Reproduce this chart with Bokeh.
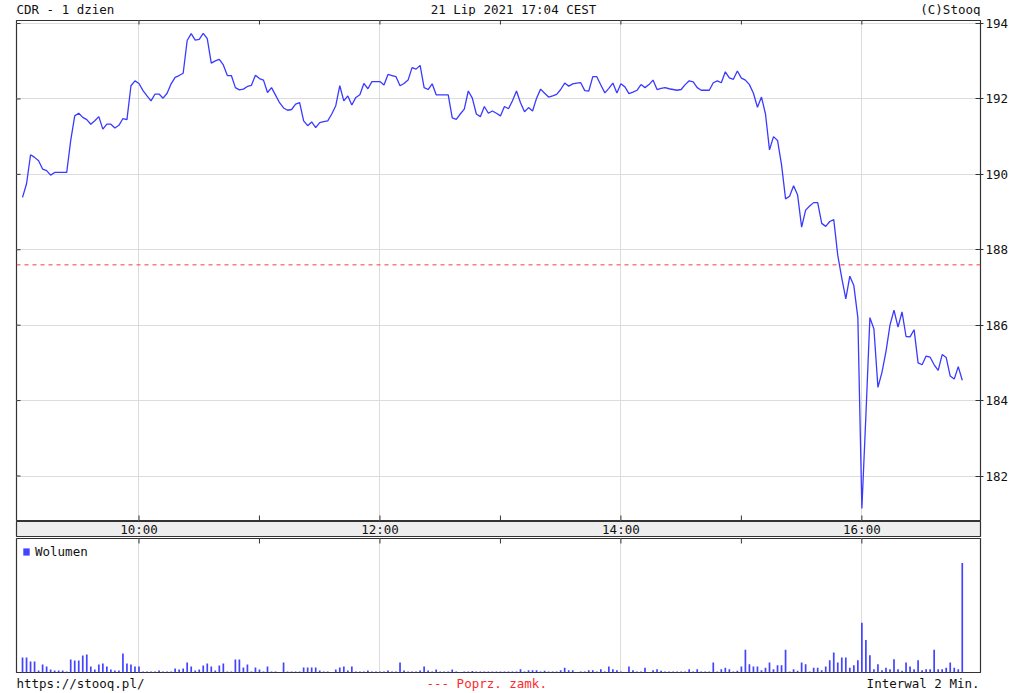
from bokeh.plotting import figure
from bokeh.models import Range1d, FixedTicker, Grid, Span, Legend, LegendItem
from bokeh.layouts import column
from bokeh.embed import file_html
from bokeh.resources import INLINE
from bokeh.core.properties import value

# ---------------- data ----------------
title_left = "CDR - 1 dzien"
title_center = "21 Lip 2021 17:04 CEST"
title_right = "(C)Stooq"
footer_left = "https://stooq.pl/"
footer_center = "--- Poprz. zamk."
footer_right = "Interwal 2 Min."
volume_label = "Wolumen"

start_minute = 9 * 60 + 2   # first 2-minute bar: 09:02
interval = 2

price = [
    189.39, 189.75, 190.52, 190.45, 190.36, 190.14, 190.10, 189.98, 190.05, 190.05,
    190.05, 190.05, 190.90, 191.55, 191.62, 191.51, 191.45, 191.33, 191.42, 191.53,
    191.20, 191.33, 191.33, 191.23, 191.30, 191.48, 191.45, 192.35, 192.48, 192.41,
    192.22, 192.08, 191.95, 192.13, 192.13, 192.02, 192.15, 192.40, 192.57, 192.62,
    192.68, 193.55, 193.73, 193.56, 193.58, 193.74, 193.60, 192.95, 193.01, 193.05,
    192.90, 192.62, 192.62, 192.30, 192.24, 192.26, 192.33, 192.36, 192.63, 192.54,
    192.50, 192.17, 192.30, 192.10, 191.90, 191.76, 191.70, 191.72, 191.86, 191.90,
    191.42, 191.29, 191.39, 191.24, 191.37, 191.40, 191.42, 191.60, 191.82, 192.35,
    191.95, 192.08, 191.84, 192.04, 192.11, 192.41, 192.27, 192.46, 192.46, 192.46,
    192.37, 192.65, 192.62, 192.59, 192.35, 192.41, 192.50, 192.83, 192.79, 192.89,
    192.30, 192.25, 192.40, 192.11, 192.11, 192.11, 192.11, 191.50, 191.46, 191.60,
    191.73, 192.21, 192.02, 191.60, 191.53, 191.80, 191.62, 191.68, 191.62, 191.55,
    191.80, 191.74, 191.95, 192.21, 191.90, 191.66, 191.77, 191.68, 192.02, 192.26,
    192.15, 192.05, 192.08, 192.12, 192.25, 192.42, 192.34, 192.40, 192.42, 192.43,
    192.22, 192.21, 192.59, 192.59, 192.37, 192.16, 192.28, 192.42, 192.16, 192.40,
    192.32, 192.14, 192.18, 192.23, 192.38, 192.30, 192.38, 192.50, 192.25, 192.28,
    192.30, 192.27, 192.25, 192.23, 192.25, 192.38, 192.48, 192.45, 192.30, 192.23,
    192.23, 192.23, 192.43, 192.48, 192.43, 192.72, 192.56, 192.52, 192.74, 192.55,
    192.50, 192.38, 192.15, 191.78, 192.05, 191.60, 190.65, 191.00, 190.90, 190.25,
    189.35, 189.42, 189.70, 189.45, 188.60, 189.05, 189.16, 189.25, 189.25, 188.70,
    188.62, 188.75, 188.80, 187.85, 187.25, 186.70, 187.30, 187.05, 186.20, 181.14,
    183.60, 186.20, 185.90, 184.35, 184.75, 185.30, 186.00, 186.40, 185.95, 186.35,
    185.70, 185.69, 185.88, 185.00, 184.95, 185.18, 185.15, 184.95, 184.80, 185.22,
    185.14, 184.65, 184.57, 184.90, 184.54,
]

volume = [
    15, 15, 11, 11, 2, 8, 6, 3, 2, 2,
    2, 1, 13, 12, 12, 17, 18, 6, 3, 8,
    9, 6, 3, 2, 2, 19, 9, 8, 6, 6,
    1, 1, 1, 1, 2, 1, 1, 1, 4, 3,
    4, 10, 6, 2, 3, 7, 9, 6, 2, 7,
    9, 1, 1, 13, 13, 5, 8, 1, 5, 3,
    1, 6, 1, 1, 0.5, 10, 1, 1, 1, 1,
    5, 5, 5, 5, 2, 1, 1, 0.5, 3, 5,
    6, 2, 6, 1, 1, 1, 2, 1, 1, 1,
    1, 2, 1, 1, 10, 2, 1, 1, 1, 2,
    6, 2, 1, 3, 1, 1, 1, 3, 1, 0.5,
    1, 1, 1.5, 1, 1, 1, 1, 1, 1, 1,
    1, 1, 1, 1, 3.3, 1, 2.3, 2.3, 2.3, 1,
    1.7, 1, 1, 1, 2.3, 4.7, 2.3, 2.3, 0.5, 1,
    1, 2.3, 2.3, 1, 3.3, 1, 6, 3.3, 2.3, 1,
    0.5, 6, 2.3, 1, 1, 4.7, 0.5, 2.3, 3.3, 1.7,
    1, 1, 1, 1, 1, 1, 3.3, 1, 3.3, 1,
    1, 1, 10, 1, 3.3, 4.7, 3.3, 1, 1.7, 6,
    23, 8.3, 6, 6, 2.3, 4.7, 10, 3.3, 7.3, 7.3,
    23, 1, 3.3, 1.7, 10, 8.3, 1, 4.7, 4.7, 2.3,
    6, 12.3, 20, 10, 15, 15, 4.7, 7.3, 12.3, 50,
    32.7, 17.3, 3.3, 8.3, 2.3, 4.7, 3.3, 13.3, 3.3, 1.7,
    10, 6, 3.3, 12.3, 2.3, 3.3, 3.3, 23, 3.3, 3.3,
    4.7, 10, 4.7, 3.3, 110,
]

prev_close = 187.6
hour_ticks = [600, 660, 720, 780, 840, 900, 960]
label_ticks = [600, 720, 840, 960]
time_labels = ["10:00", "12:00", "14:00", "16:00"]
price_ticks = [182, 184, 186, 188, 190, 192, 194]

times = [start_minute + interval * i for i in range(len(price))]

# ---------------- styling / layout ----------------
W = 1024
LB, RB = 16, 44                 # frame spans x = 16 .. 980
FRAME_W = W - LB - RB
FONT = "DejaVu Sans Mono"
FS = "12.5px"
BORDER = "#333333"
GRID = "#dcdcdc"
BLUE = "#3a3aff"
TXT = "#111111"

X0, X1 = 539.0, 1019.08
xr = Range1d(X0, X1)
min_per_px = (X1 - X0) / FRAME_W

P_TOP = 4
P_FRAME_H = 500
P_H = P_FRAME_H + P_TOP + 1
Y0, Y1 = 180.82, 194.08
val_per_px = (Y1 - Y0) / P_FRAME_H

V_H = 136
V_FRAME_H = V_H - 2
V_TOP = max(volume) * 1.225
vol_per_px = V_TOP / V_FRAME_H


def text_strip(height, ypos, items):
    f = figure(width=W, height=height, x_range=Range1d(LB, W - RB), y_range=Range1d(0, 1),
               x_axis_type=None, y_axis_type=None,
               min_border_left=LB, min_border_right=RB, min_border_top=0, min_border_bottom=0,
               output_backend="svg", toolbar_location=None)
    f.outline_line_color = None
    f.grid.visible = False
    for x, txt, align, col in items:
        f.text(x=[x], y=[ypos], text=[txt], text_align=align, text_baseline="middle",
               text_font=value(FONT), text_font_size=FS, text_color=col)
    return f


hdr = text_strip(16, 0.44, [(LB, title_left, "left", TXT),
                            (513, title_center, "center", TXT),
                            (W - RB, title_right, "right", TXT)])

# ---- price panel ----
p = figure(width=W, height=P_H, x_range=xr, y_range=Range1d(Y0, Y1),
           x_axis_type=None, y_axis_location="right",
           min_border_left=LB, min_border_right=RB, min_border_top=P_TOP, min_border_bottom=1,
           output_backend="svg", toolbar_location=None)
p.outline_line_color = BORDER
p.outline_line_width = 1.2

for ax in p.yaxis:
    ax.ticker = FixedTicker(ticks=price_ticks)
    ax.major_label_text_font = FONT
    ax.major_label_text_font_size = FS
    ax.major_label_text_color = TXT
    ax.major_label_standoff = 2
    ax.major_tick_in = 5
    ax.major_tick_out = 3
    ax.major_tick_line_color = BORDER
    ax.axis_line_color = None
    ax.minor_tick_line_color = None
for g in p.ygrid:
    g.ticker = FixedTicker(ticks=price_ticks)
    g.grid_line_color = GRID
p.add_layout(Grid(dimension=0, ticker=FixedTicker(ticks=label_ticks), grid_line_color=GRID))

# inner tick marks on the frame edges
nh = len(hour_ticks)
npt = len(price_ticks)
p.segment(x0=hour_ticks, y0=[Y1] * nh, x1=hour_ticks, y1=[Y1 - 4 * val_per_px] * nh,
          line_color=BORDER, line_width=1)
p.segment(x0=hour_ticks, y0=[Y0] * nh, x1=hour_ticks, y1=[Y0 + 5 * val_per_px] * nh,
          line_color=BORDER, line_width=1)
p.segment(x0=[X0] * npt, y0=price_ticks, x1=[X0 + 4 * min_per_px] * npt, y1=price_ticks,
          line_color=BORDER, line_width=1)

p.add_layout(Span(location=prev_close, dimension="width", line_color="#ff3a3a",
                  line_dash="4 4", line_width=1))
p.line(times, price, line_color=BLUE, line_width=1.3)

# ---- time label band ----
band = figure(width=W, height=16, x_range=xr, y_range=Range1d(0, 1),
              x_axis_type=None, y_axis_type=None,
              min_border_left=LB, min_border_right=RB, min_border_top=0, min_border_bottom=0,
              output_backend="svg", toolbar_location=None)
band.background_fill_color = "#eeeeee"
band.outline_line_color = BORDER
band.outline_line_width = 1.2
band.grid.visible = False
band.text(x=label_ticks, y=[0.5] * len(label_ticks), text=time_labels, text_align="center",
          text_baseline="middle", text_font=value(FONT), text_font_size=FS, text_color=TXT)

# ---- volume panel ----
v = figure(width=W, height=V_H, x_range=xr, y_range=Range1d(0, V_TOP),
           x_axis_type=None, y_axis_type=None,
           min_border_left=LB, min_border_right=RB, min_border_top=1, min_border_bottom=1,
           output_backend="svg", toolbar_location=None)
v.outline_line_color = BORDER
v.outline_line_width = 1.2
v.grid.visible = False
v.add_layout(Grid(dimension=0, ticker=FixedTicker(ticks=label_ticks), grid_line_color=GRID))
v.segment(x0=hour_ticks, y0=[V_TOP] * nh, x1=hour_ticks, y1=[V_TOP - 5 * vol_per_px] * nh,
          line_color=BORDER, line_width=1)

vr = v.vbar(x=times, top=volume, width=0.85, fill_color="#4444ff", line_color=None)
legend = Legend(items=[LegendItem(label=volume_label, renderers=[vr])], location="top_left",
                margin=6, padding=0, spacing=0, glyph_width=8, glyph_height=9,
                label_height=9, label_standoff=5, label_text_font=FONT,
                label_text_font_size=FS, label_text_color=TXT, label_text_baseline="middle",
                background_fill_alpha=0, border_line_color=None)
v.add_layout(legend)

ftr = text_strip(19, 0.5, [(LB, footer_left, "left", TXT),
                           (426, footer_center, "left", "#ff2a2a"),
                           (W - RB - 1, footer_right, "right", TXT)])

layout = column(hdr, p, band, v, ftr, spacing=0)
open("out.html", "w").write(file_html(layout, INLINE))
